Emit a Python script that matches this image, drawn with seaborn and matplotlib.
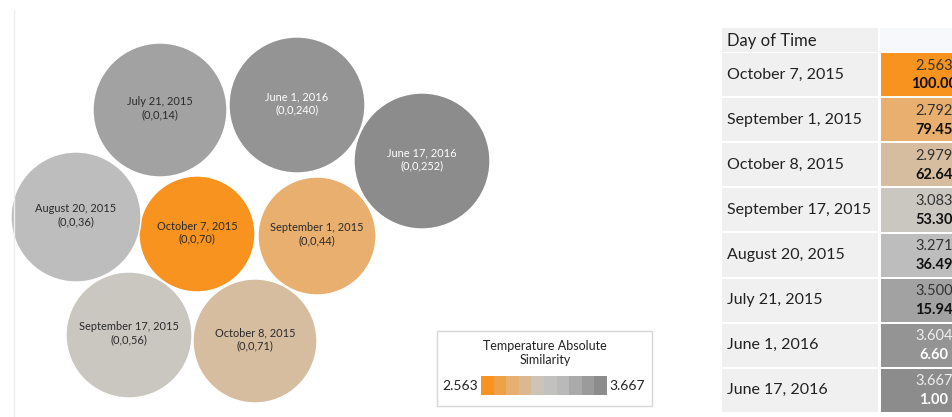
import numpy as np
import pandas as pd
import matplotlib.pyplot as plt
import seaborn as sns
from matplotlib.colors import LinearSegmentedColormap, Normalize
from matplotlib.patches import Circle, Rectangle

sns.set_theme(style="white")
plt.rcParams['font.family'] = ['Lato', 'DejaVu Sans']

# Data
days = ["October 7, 2015", "September 1, 2015", "October 8, 2015", "September 17, 2015",
        "August 20, 2015", "July 21, 2015", "June 1, 2016", "June 17, 2016"]
codes = ["(0,0,70)", "(0,0,44)", "(0,0,71)", "(0,0,56)",
         "(0,0,36)", "(0,0,14)", "(0,0,240)", "(0,0,252)"]
temp_diff = [2.563, 2.792, 2.979, 3.083, 3.271, 3.500, 3.604, 3.667]
similarity = [100.00, 79.45, 62.64, 53.30, 36.49, 15.94, 6.60, 1.00]

# bubble layout (pixel space of the left panel) and radii
bubble_x = [197, 317, 255, 129, 76, 160, 297, 422]
bubble_y = [234, 236, 341, 335, 217, 110, 105, 161]
bubble_r = [58, 59, 62, 63, 65, 67, 68, 68]

# colour ramp anchors, one per day
ramp_colors = ["#F7931E", "#E8AF6E", "#D6BD9F", "#C9C7BF",
               "#BDBDBD", "#A2A2A2", "#949494", "#8C8C8C"]

vmin, vmax = min(temp_diff), max(temp_diff)
norm = Normalize(vmin, vmax)
cmap = LinearSegmentedColormap.from_list(
    "sim", list(zip([norm(v) for v in temp_diff], ramp_colors)))

W, H = 953, 417
fig = plt.figure(figsize=(W / 100, H / 100), dpi=100)
ax = fig.add_axes([0, 0, 1, 1])
ax.set_xlim(0, W)
ax.set_ylim(H, 0)
ax.axis("off")

# faint panel edge
ax.plot([14, 14], [10, 417], color="#EEEEEE", lw=1)

# bubbles
for d, c, v, x, y, r in zip(days, codes, temp_diff, bubble_x, bubble_y, bubble_r):
    ax.add_patch(Circle((x, y), r, facecolor=cmap(norm(v)), edgecolor="white", lw=1))
    tc = "white" if v > 3.55 else "#2A2A2A"
    ax.text(x, y - 2, f"{d}\n{c}", ha="center", va="center", fontsize=7.9,
            color=tc, linespacing=1.2)

# legend box
ax.add_patch(Rectangle((437, 331), 215, 75, facecolor="white", edgecolor="#D6D6D6", lw=1))
ax.text(545, 353, "Temperature Absolute\nSimilarity", ha="center", va="center",
        fontsize=9, color="#222222", linespacing=1.2)
ax.text(478, 386, f"{vmin:.3f}", ha="right", va="center", fontsize=10, color="#222222")
ax.text(609, 386, f"{vmax:.3f}", ha="left", va="center", fontsize=10, color="#222222")
cax = fig.add_axes([481 / W, (H - 395) / H, 126 / W, 19 / H])
grad = np.linspace(vmin, vmax, 10).reshape(1, -1)
cax.imshow(grad, cmap=cmap, norm=norm, aspect="auto")
cax.set_axis_off()

# table: label column
top, row_h = 52, 45.1
ax.add_patch(Rectangle((722, 28), 156, top - 28, facecolor="#F0F0F0", edgecolor="none"))
ax.text(727, 41, "Day of Time", ha="left", va="center", fontsize=12, color="#222222")
ax.add_patch(Rectangle((880, 28), 80, top - 28, facecolor="#F6F8FB", edgecolor="none"))
for i, d in enumerate(days):
    y0 = top + i * row_h
    ax.add_patch(Rectangle((722, y0 + 1), 156, row_h - 2, facecolor="#F0F0F0", edgecolor="none"))
    ax.text(727, y0 + row_h / 2, d, ha="left", va="center", fontsize=11.5, color="#222222")

# table: value column as a heatmap (runs past the right edge, like the original)
tab = pd.DataFrame({"v": temp_diff}, index=days)
hax = fig.add_axes([880 / W, (H - 413) / H, 108 / W, (413 - top) / H])
sns.heatmap(tab, ax=hax, cmap=cmap, norm=norm, cbar=False, annot=False,
            linewidths=1.2, linecolor="white", xticklabels=False, yticklabels=False)
for i, (v, s) in enumerate(zip(temp_diff, similarity)):
    tc = "#EEEEEE" if v > 3.55 else "#333333"
    bc = "white" if v > 3.55 else "#111111"
    hax.text(0.5, i + 0.3, f"{v:.3f}", ha="center", va="center", fontsize=10.5, color=tc)
    hax.text(0.5, i + 0.72, f"{s:.2f}", ha="center", va="center", fontsize=10.5,
             fontweight="bold", color=bc)
hax.set_xlabel("")
hax.set_ylabel("")

fig.savefig("out.png", dpi=100)
